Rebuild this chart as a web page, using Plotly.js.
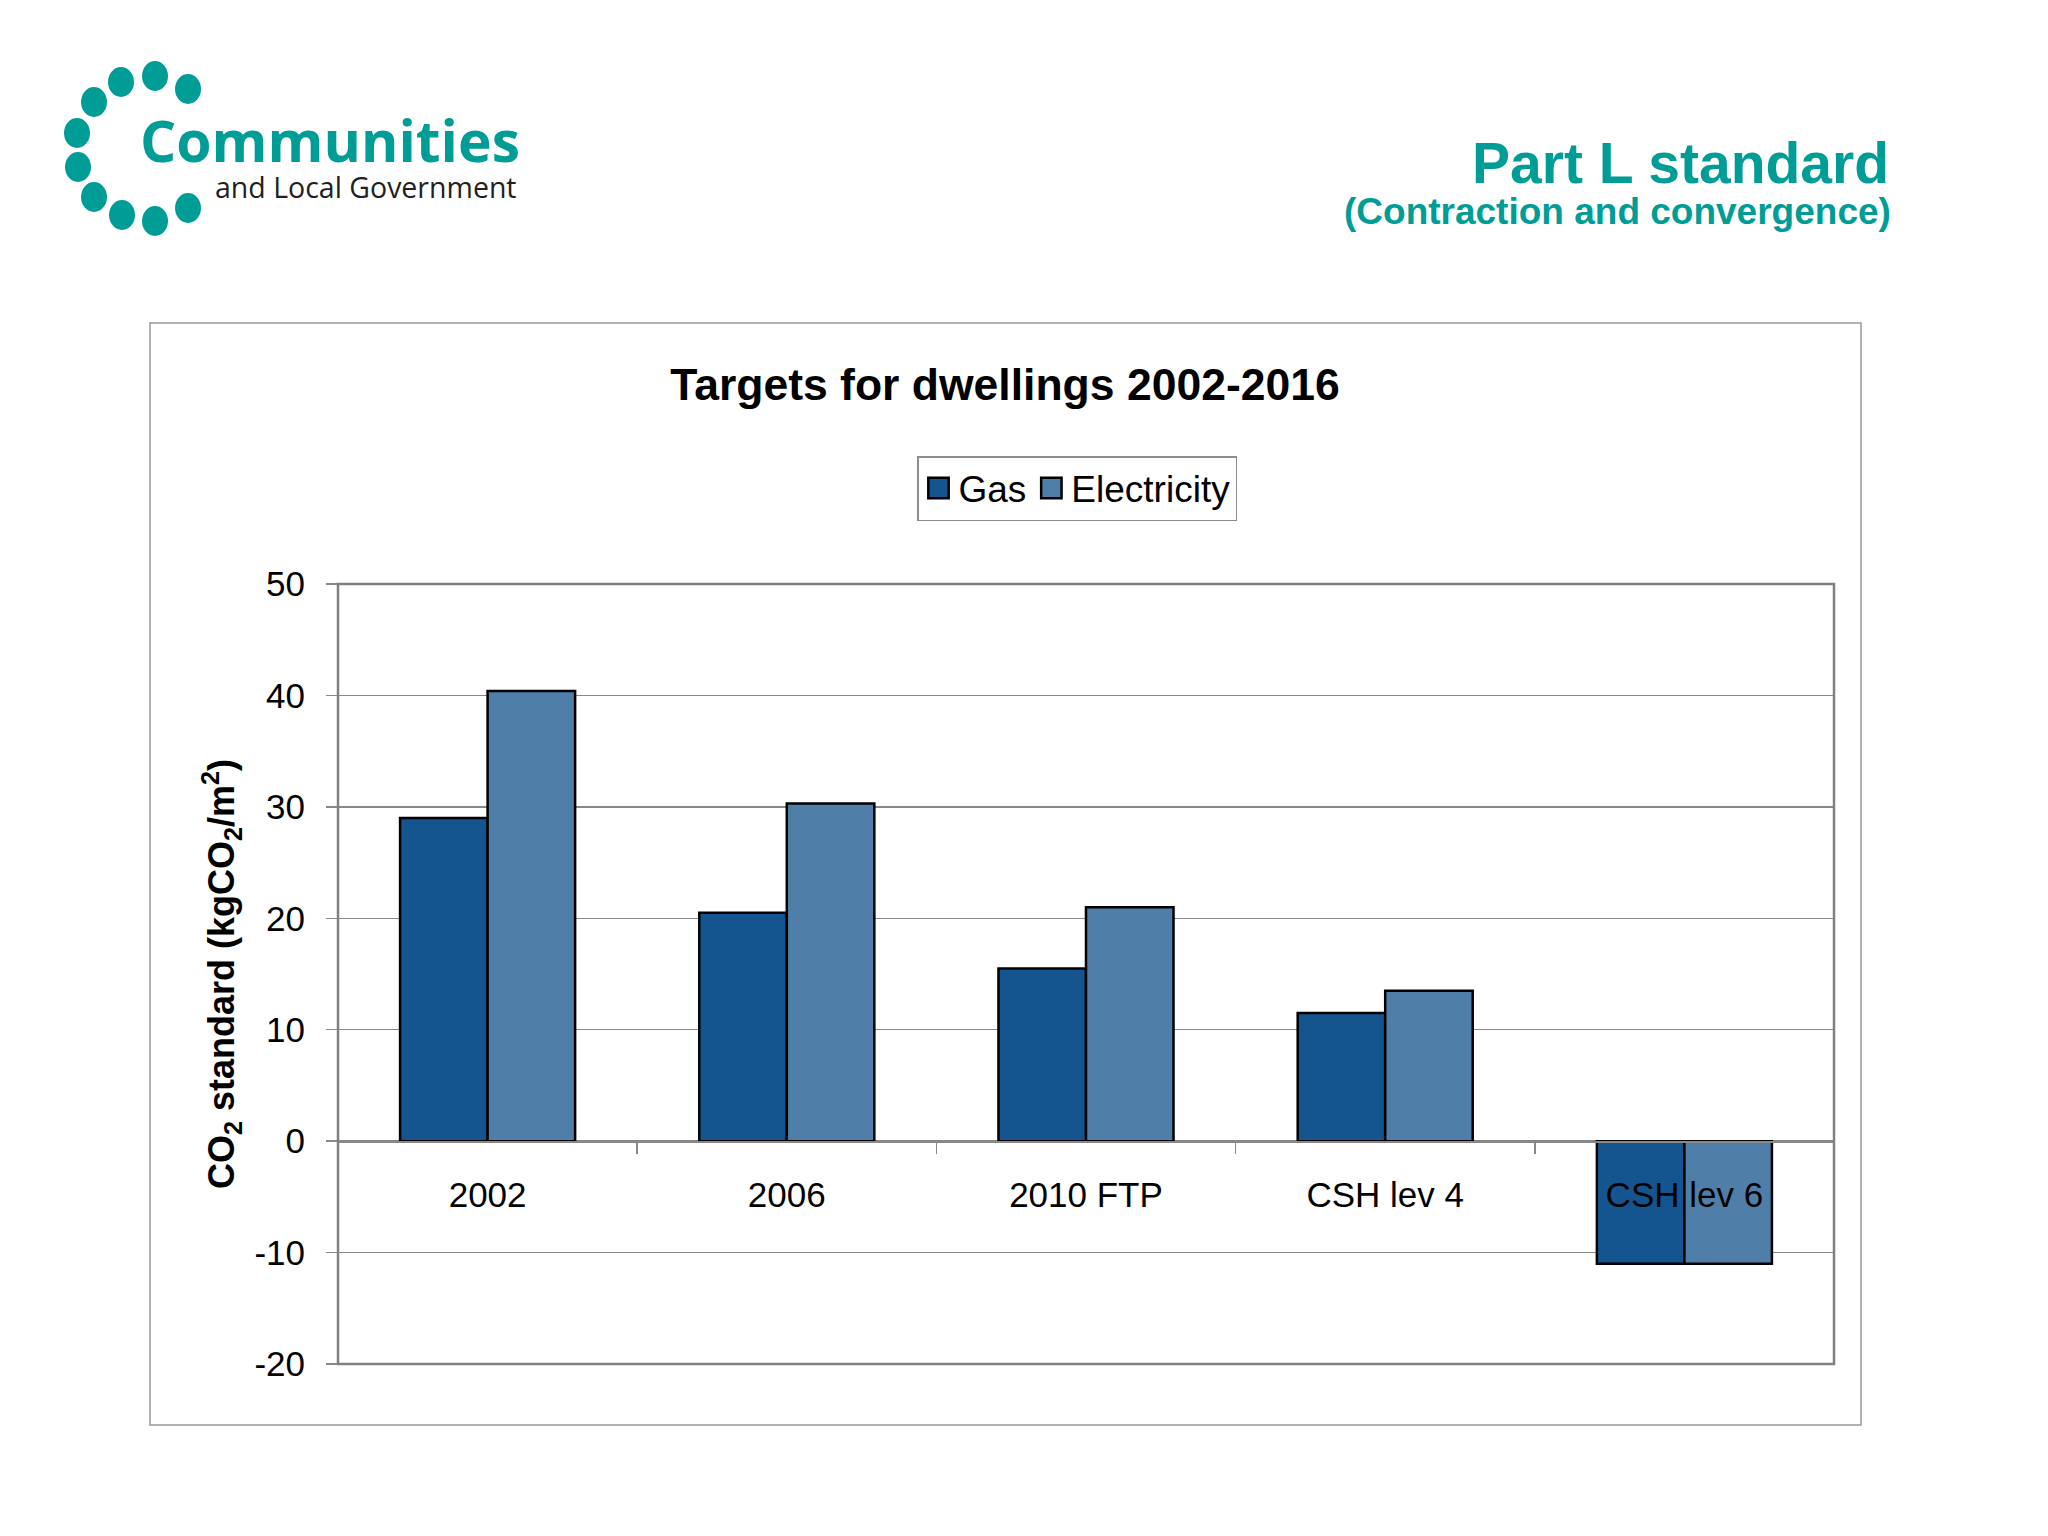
<!DOCTYPE html>
<html>
<head>
<meta charset="utf-8">
<script src="https://cdn.plot.ly/plotly-3.0.1.min.js"></script>
<style>
  html, body { margin: 0; padding: 0; background: #ffffff; }
  #chart { width: 2048px; height: 1536px; }
  .legendpoints path { vector-effect: non-scaling-stroke; }
</style>
</head>
<body>
<div id="chart"></div>
<script>
// ---- Data ----
const categories = ["2002", "2006", "2010 FTP", "CSH lev 4", "CSH lev 6"];
const gasValues = [29, 20.5, 15.5, 11.5, -11];
const electricityValues = [40.4, 30.3, 21, 13.5, -11];
const seriesNames = ["Gas", "Electricity"];
const yTickValues = [-20, -10, 0, 10, 20, 30, 40, 50];
const yTickLabels = ["-20", "-10", "0", "10", "20", "30", "40", "50"];

// ---- Layout geometry (pixels) ----
const W = 2048, H = 1536;
const PL = 338, PR = 1834, PT = 584, PB = 1364;
const pw = PR - PL, ph = PB - PT;
const px = x => (x - PL) / pw;
const py = y => (PB - y) / ph;

const teal = "#009C96";
const gasColor = "#14558F";
const elecColor = "#4F7FA9";
const gridColor = "#888888";
const fontFamily = "Liberation Sans, Arial, sans-serif";

const yMin = -20, yMax = 50;

const traces = [
  {
    type: "bar", name: seriesNames[0], x: categories, y: gasValues,
    marker: { color: gasColor, line: { color: "#000000", width: 2.5 } },
    hoverinfo: "skip"
  },
  {
    type: "bar", name: seriesNames[1], x: categories, y: electricityValues,
    marker: { color: elecColor, line: { color: "#000000", width: 2.5 } },
    hoverinfo: "skip"
  }
];

// Logo dot centres (pixels)
const dotCentres = [
  [121, 82], [155, 76], [188, 89], [94, 102], [77, 133],
  [78, 167], [94, 197], [122, 215], [155, 221], [188, 208]
];
const dotShapes = dotCentres.map(([cx, cy]) => ({
  type: "circle", xref: "paper", yref: "paper",
  x0: px(cx - 13), x1: px(cx + 13), y0: py(cy + 15), y1: py(cy - 15),
  fillcolor: teal, line: { width: 0 }
}));

const layout = {
  width: W, height: H,
  margin: { l: PL, r: W - PR, t: PT, b: H - PB, pad: 0 },
  paper_bgcolor: "#ffffff", plot_bgcolor: "#ffffff",
  showlegend: true,
  barmode: "group", bargap: 0.415, bargroupgap: 0,
  font: { family: fontFamily, color: "#000000", size: 35 },
  title: {
    text: "<b>Targets for dwellings 2002-2016</b>",
    font: { family: fontFamily, size: 44.5, color: "#000000" },
    xref: "paper", x: px(1005), xanchor: "center",
    yref: "container", y: 1 - 384 / H, yanchor: "middle"
  },
  legend: {
    orientation: "h",
    x: px(917), xanchor: "left",
    y: py(456), yanchor: "top",
    bgcolor: "#ffffff", bordercolor: "#8c8c8c", borderwidth: 1.5,
    font: { family: fontFamily, size: 37, color: "#000000" },
    itemwidth: 30
  },
  xaxis: {
    type: "category",
    anchor: "free",
    position: (0 - yMin) / (yMax - yMin),
    showline: true, linecolor: gridColor, linewidth: 1.5,
    ticks: "outside", tickson: "boundaries", ticklen: 11, tickwidth: 1.5, tickcolor: gridColor,
    showgrid: false, zeroline: false,
    tickfont: { family: fontFamily, size: 35, color: "#000000" },
    ticklabelstandoff: 22,
    fixedrange: true
  },
  yaxis: {
    range: [yMin, yMax],
    tickvals: yTickValues,
    ticktext: yTickLabels,
    showgrid: true, gridcolor: gridColor, gridwidth: 1.3,
    zeroline: true, zerolinecolor: gridColor, zerolinewidth: 1.5,
    showline: false,
    ticks: "outside", ticklen: 11, tickwidth: 1.5, tickcolor: gridColor,
    tickfont: { family: fontFamily, size: 35, color: "#000000" },
    ticklabelstandoff: 14,
    title: {
      text: "<b>CO<sub>2</sub> standard (kgCO<sub>2</sub>/m<sup>2</sup>)</b>",
      font: { family: fontFamily, size: 36, color: "#000000" },
      standoff: 8
    },
    automargin: false,
    fixedrange: true
  },
  shapes: [
    // plot area frame
    { type: "rect", xref: "paper", yref: "paper", x0: 0, x1: 1, y0: 0, y1: 1,
      line: { color: "#808080", width: 2.5 }, fillcolor: "rgba(0,0,0,0)", layer: "above" },
    // outer chart frame
    { type: "rect", xref: "paper", yref: "paper",
      x0: px(150), x1: px(1861), y0: py(1425), y1: py(323),
      line: { color: "#9a9a9a", width: 1.5 }, fillcolor: "rgba(0,0,0,0)", layer: "below" }
  ].concat(dotShapes),
  annotations: [
    { text: "<b>Part L standard</b>", xref: "paper", yref: "paper",
      x: px(1891), xanchor: "right", y: py(163), yanchor: "middle", showarrow: false,
      font: { family: fontFamily, size: 57, color: teal } },
    { text: "<b>(Contraction and convergence)</b>", xref: "paper", yref: "paper",
      x: px(1893), xanchor: "right", y: py(212), yanchor: "middle", showarrow: false,
      font: { family: fontFamily, size: 37, color: teal } },
    { text: "<b>Communities</b>", xref: "paper", yref: "paper",
      x: px(138), xanchor: "left", y: py(140), yanchor: "middle", showarrow: false,
      font: { family: "Open Sans, sans-serif", size: 57, color: teal } },
    { text: "and Local Government", xref: "paper", yref: "paper",
      x: px(213), xanchor: "left", y: py(187), yanchor: "middle", showarrow: false,
      font: { family: "Open Sans, sans-serif", size: 28.5, color: "#231f20" } }
  ]
};

Plotly.newPlot("chart", traces, layout, { displayModeBar: false, staticPlot: true }).then(gd => {
  // enlarge the legend swatches to match the reference's larger squares
  gd.querySelectorAll(".legendpoints path").forEach(p => {
    const t = p.getAttribute("transform") || "";
    p.setAttribute("transform", (t + " scale(1.7)").trim());
    p.style.strokeWidth = "2.5px";
  });
});
</script>
</body>
</html>
